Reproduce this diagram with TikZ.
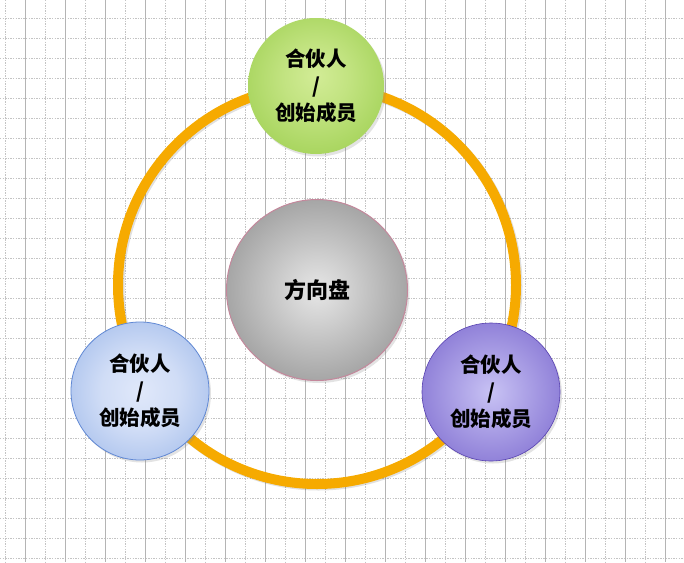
\documentclass[tikz,border=0pt]{standalone}
\usepackage{fontspec}
\newfontfamily\cjk{Noto Sans CJK SC}
\usetikzlibrary{shadows}
\definecolor{ringorange}{RGB}{246,170,0}
\definecolor{gIn}{RGB}{210,236,150}
\definecolor{gOut}{RGB}{130,192,44}
\definecolor{bIn}{RGB}{224,232,250}
\definecolor{bOut}{RGB}{120,158,224}
\definecolor{bLine}{RGB}{96,136,212}
\definecolor{pIn}{RGB}{200,194,244}
\definecolor{pOut}{RGB}{90,66,190}
\definecolor{pLine}{RGB}{86,64,176}
\definecolor{cIn}{RGB}{230,230,230}
\definecolor{cOut}{RGB}{100,100,100}
\definecolor{cLine}{RGB}{196,136,156}
\definecolor{gridsolid}{RGB}{180,180,180}
\definecolor{griddash}{RGB}{196,196,196}
\pgfdeclareradialshading{greenball}{\pgfpoint{0bp}{4bp}}{color(0bp)=(gIn); color(12bp)=(gIn!80!gOut); color(50bp)=(gOut)}
\pgfdeclareradialshading{blueball}{\pgfpoint{0bp}{0bp}}{color(0bp)=(bIn); color(14bp)=(bIn!85!bOut); color(50bp)=(bOut)}
\pgfdeclareradialshading{purpleball}{\pgfpoint{0bp}{0bp}}{color(0bp)=(pIn); color(10bp)=(pIn!80!pOut); color(50bp)=(pOut)}
\pgfdeclareradialshading{grayball}{\pgfpoint{0bp}{0bp}}{color(0bp)=(cIn); color(8bp)=(cIn!85!cOut); color(50bp)=(cOut)}
\tikzset{
  ball/.style={circle, inner sep=0pt, align=center, text=black,
    font=\cjk\bfseries\fontsize{20.5}{27}\selectfont,
    drop shadow={opacity=0.22, shadow xshift=2pt, shadow yshift=-2.5pt}},
  gridsolidline/.style={gridsolid, line width=0.7pt},
  griddashline/.style={griddash, line width=0.7pt, dash pattern=on 1.3pt off 1.3pt},
}
\begin{document}
\begin{tikzpicture}[x=1pt,y=-1pt]
\useasboundingbox (0,0) rectangle (684,562);
\fill[white] (0,0) rectangle (684,562);
% grid
\foreach \y in {18,38,...,558} \draw[griddashline] (0,\y) -- (684,\y);
\foreach \x in {5,45,...,685} \draw[griddashline] (\x,0) -- (\x,562);
\foreach \x in {25,65,...,665} \draw[gridsolidline] (\x,0) -- (\x,562);
% ring
\coordinate (ringc) at (317,285);
\draw[black, opacity=0.12, line width=10pt] ([shift={(1.5,1.5)}]ringc) circle (199);
\draw[ringorange, line width=10pt] (ringc) circle (199);
% nodes
\node[ball, minimum size=136pt, shading=greenball] (top) at (316,86) {合伙人\\/\\创始成员};
\node[ball, minimum size=138pt, shading=blueball, draw=bLine, line width=0.8pt] (left) at (140,391) {合伙人\\/\\创始成员};
\node[ball, minimum size=138pt, shading=purpleball, draw=pLine, line width=0.6pt] (right) at (491,392) {合伙人\\/\\创始成员};
\node[ball, minimum size=181pt, shading=grayball, draw=cLine, line width=1pt, font=\cjk\bfseries\fontsize{22}{27}\selectfont] (center) at (317,290) {方向盘};
\end{tikzpicture}
\end{document}
